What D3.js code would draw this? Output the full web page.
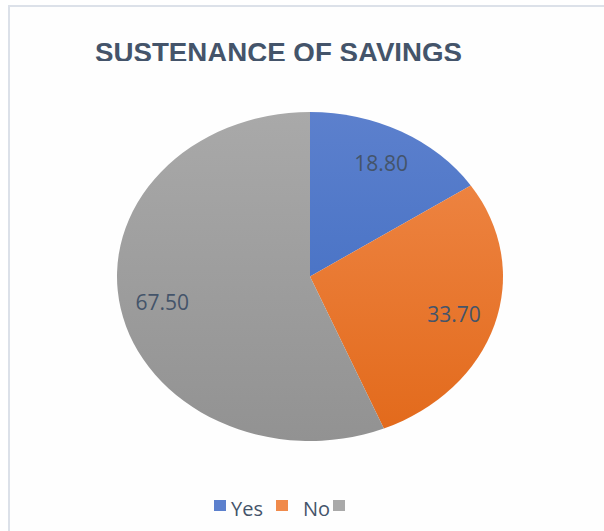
<!DOCTYPE html>
<html>
<head>
<meta charset="utf-8">
<script src="https://cdn.jsdelivr.net/npm/d3@7/dist/d3.min.js"></script>
<style>
html,body{margin:0;padding:0;background:#ffffff;}
svg{display:block;}
</style>
</head>
<body>
<svg id="chart" width="604" height="531"></svg>
<script>
const title = "SUSTENANCE OF SAVINGS";
const categories = ["Yes", "No", ""];
const values = [18.80, 33.70, 67.50];
const valueLabels = ["18.80", "33.70", "67.50"];
const topColors = ["#5C80CD", "#F08A4B", "#A9A9A9"];
const bottomColors = ["#3A69C0", "#E2691A", "#929292"];

const W = 604, H = 531;
const svg = d3.select("#chart");
const defs = svg.append("defs");

// frame
svg.append("rect").attr("x", 0).attr("y", 0).attr("width", W).attr("height", H).attr("fill", "#ffffff");
svg.append("rect").attr("x", 9).attr("y", 6).attr("width", W + 20).attr("height", H + 20)
  .attr("fill", "#fefefe").attr("stroke", "#DCE1E9").attr("stroke-width", 2);

// title (clipped at bottom like reference)
defs.append("clipPath").attr("id", "titleClip")
  .append("rect").attr("x", 0).attr("y", 0).attr("width", W).attr("height", 61);
svg.append("text")
  .attr("clip-path", "url(#titleClip)")
  .attr("x", 95).attr("y", 62)
  .attr("textLength", 367).attr("lengthAdjust", "spacingAndGlyphs")
  .attr("font-family", "Liberation Sans, Arial, sans-serif")
  .attr("font-weight", "bold").attr("font-size", 27.5)
  .attr("fill", "#44546A")
  .text(title);

// pie (elliptical)
const cx = 310, cy = 276.5, rx = 193, ry = 164.5;
const R = 100;
const pie = d3.pie().sort(null).value(d => d)(values);
const arc = d3.arc().innerRadius(0).outerRadius(R);

values.forEach((v, i) => {
  const g = defs.append("linearGradient").attr("id", "grad" + i)
    .attr("gradientUnits", "userSpaceOnUse")
    .attr("x1", 0).attr("y1", -R).attr("x2", 0).attr("y2", R);
  g.append("stop").attr("offset", "0%").attr("stop-color", topColors[i]);
  g.append("stop").attr("offset", "100%").attr("stop-color", bottomColors[i]);
});

const pg = svg.append("g")
  .attr("transform", `translate(${cx},${cy}) scale(${rx / R},${ry / R})`);
pg.selectAll("path").data(pie).enter().append("path")
  .attr("d", arc)
  .attr("fill", (d, i) => `url(#grad${i})`);

// labels
const labelR = 0.78;
svg.selectAll("text.lbl").data(pie).enter().append("text")
  .attr("class", "lbl")
  .attr("x", d => { const a = (d.startAngle + d.endAngle) / 2; return cx + Math.sin(a) * labelR * rx; })
  .attr("y", d => { const a = (d.startAngle + d.endAngle) / 2; return cy - Math.cos(a) * labelR * ry; })
  .attr("dy", "0.38em")
  .attr("text-anchor", "middle")
  .attr("font-family", "Open Sans, sans-serif")
  .attr("font-size", 21)
  .attr("fill", "#44546A")
  .text((d, i) => valueLabels[i]);

// legend
const legendX = [214, 276, 333];
const lg = svg.append("g");
categories.forEach((c, i) => {
  lg.append("rect").attr("x", legendX[i]).attr("y", 500).attr("width", 12).attr("height", 11)
    .attr("fill", topColors[i]);
  if (c) {
    lg.append("text").attr("x", legendX[i] + (i === 0 ? 17 : 27)).attr("y", 516)
      .attr("font-family", "Open Sans, sans-serif").attr("font-size", 20)
      .attr("fill", "#44546A").text(c);
  }
});
</script>
</body>
</html>
